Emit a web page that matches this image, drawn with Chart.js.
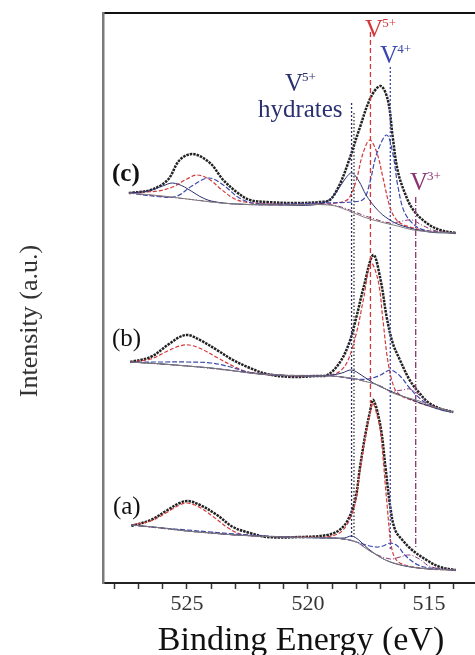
<!DOCTYPE html>
<html>
<head>
<meta charset="utf-8">
<script src="https://cdn.jsdelivr.net/npm/chart.js@4.4.0/dist/chart.umd.min.js"></script>
<style>
  html, body { margin: 0; padding: 0; background: #fff; overflow: hidden; }
  #wrap { width: 475px; height: 655px; }
</style>
</head>
<body>
<div id="wrap"><canvas id="xps"></canvas></div>
<script>
// [binding energy (eV), intensity (a.u.)]

// (c)
const cExp = [[527.4,390],[526.5,393],[525.8,403],[525.3,423],[524.75,429],[524.05,420],[523.5,403],[522.9,390],[522.4,383],[521.7,381],[520.5,380],[519.5,381],[519.1,383],[518.7,398],[518.3,423],[517.85,456],[517.4,486],[517.0,497],[516.7,483],[516.5,446],[516.3,413],[516.0,390],[515.65,373],[515.1,360],[514.55,353],[513.9,350]];
const cBg = [[527.4,390],[526,387],[525,384],[524,381],[523,379],[521,378],[519.1,378],[518.4,373],[517.7,366],[517.0,361],[516.3,357],[515.65,353],[514.8,351],[513.9,350]];
const cHydr = [[527.4,390],[526.6,392],[526.0,397],[525.6,400],[525.1,396],[524.5,387],[524.0,382],[523,379],[521,378],[519.8,378],[519.2,382],[518.8,392],[518.5,403],[518.2,410],[517.9,402],[517.6,388],[517.2,375],[516.8,366],[516.2,358],[515.0,351],[513.9,350]];
const cV5 = [[527.4,390],[526.8,391],[526.2,392],[525.6,396],[525.0,404],[524.6,408],[524.1,404],[523.6,394],[523.1,385],[522.6,381],[521.5,379],[519.5,379],[518.6,381],[518.3,385],[518.0,403],[517.75,428],[517.45,443],[517.15,430],[516.9,405],[516.6,375],[516.3,362],[515.8,356],[515.0,352],[513.9,350]];
const cV4 = [[527.4,390],[526.0,386],[525.4,387],[524.8,397],[524.1,405],[523.5,398],[522.9,386],[522.3,380],[521,379],[519.5,380],[518.2,381],[517.7,384],[517.45,400],[517.15,430],[516.75,448],[516.5,430],[516.28,396],[516.0,370],[515.5,356],[515.0,352],[513.9,350]];
const cV3 = [[527.4,390],[525,384],[523,379],[521,378],[519,378],[517.5,366],[516.6,360],[516.1,362],[515.7,363],[515.3,358],[514.7,352],[513.9,350]];

// (b)
const bExp = [[527.35,221],[526.5,226],[525.8,238],[525.3,246],[524.95,248],[524.46,243],[523.76,233],[523.1,223],[522.4,215],[521.7,209],[520.7,206],[519.7,207],[519.2,208],[518.7,220],[518.3,240],[518.0,266],[517.7,296],[517.3,328],[517.0,303],[516.75,266],[516.5,240],[516.2,223],[515.8,203],[515.4,190],[515.0,180],[514.5,174],[514.0,171]];
const bBg = [[527.35,221],[526,219],[525,217],[524,215],[523,212],[522,209],[520,207],[519.1,207],[518.2,205],[517.7,202],[517.0,197],[516.6,191],[516.0,186],[515.4,182],[514.8,176],[514.0,171]];
const bHydr = [[527.35,221],[526,219],[525,217],[524,215],[523,212],[522,209],[520,207],[519.0,208],[518.6,210],[518.2,213],[517.8,208],[517.3,200],[516.8,194],[516.0,186],[515.0,177],[514.0,171]];
const bV5 = [[527.35,221],[526.5,224],[525.8,232],[525.3,237],[524.9,238],[524.4,234],[523.8,226],[523.1,217],[522.5,211],[521.5,208],[519.5,207],[518.8,210],[518.4,220],[518.0,250],[517.7,285],[517.4,320],[517.1,302],[516.9,262],[516.7,222],[516.45,196],[516.2,188],[515.5,181],[515.0,177],[514.0,171]];
const bV4 = [[527.35,221],[526,221],[525,221],[524,220],[523.2,216],[522.5,211],[521.5,208],[520,207],[519,207],[518,204],[517.5,204],[517.0,208],[516.6,213],[516.2,207],[515.8,195],[515.4,185],[515.0,178],[514.5,173],[514.0,171]];
const bV3 = [[527.35,221],[525,217],[523,212],[521,208],[519,207],[517.7,202],[517.0,197],[516.6,192],[516.1,193],[515.8,194],[515.4,188],[515.0,179],[514.5,174],[514.0,171]];

// (a)
const aExp = [[527.3,57],[526.5,63],[525.8,73],[525.3,80],[524.95,82],[524.46,78],[523.76,68],[523.1,56],[522.4,50],[521.7,46],[520.3,46],[519.2,48],[518.7,53],[518.35,63],[518.05,83],[517.85,116],[517.65,146],[517.45,170],[517.3,183],[517.0,156],[516.8,116],[516.6,76],[516.4,53],[516.1,43],[515.7,33],[515.1,23],[514.55,16],[513.9,13]];
const aBg = [[527.3,58],[526,55],[525,52],[524,50],[523,48],[521,46],[519.2,45],[518.5,44],[518.0,41],[517.7,36],[517.3,30],[516.8,23],[516.3,19],[515.7,16],[515.0,14],[513.9,13]];
const aHydr = [[527.3,58],[526,55],[525,52],[524,50],[523,48],[521,46],[519.2,45],[518.5,45],[518.2,47],[517.9,43],[517.5,34],[516.8,23],[516.0,17],[515.0,14],[513.9,13]];
const aV5 = [[527.3,58],[526.5,62],[525.8,71],[525.3,78],[525.0,80],[524.5,76],[523.9,66],[523.3,55],[522.8,49],[522.0,47],[520.5,46],[519.3,46],[518.7,50],[518.35,60],[518.05,80],[517.85,112],[517.65,143],[517.45,168],[517.33,180],[517.15,168],[517.0,150],[516.75,83],[516.55,36],[516.35,23],[516.0,18],[515.0,14],[513.9,13]];
const aV4 = [[527.3,58],[526,55],[525,53],[524,51],[523,49],[521,46],[519.2,45],[518.5,44],[518.0,41],[517.6,38],[517.2,36],[516.9,37],[516.6,40],[516.3,37],[516.0,28],[515.6,20],[515.2,16],[514.5,14],[513.9,13]];
const aV3 = [[527.3,58],[525,52],[523,48],[521,46],[519,45],[518,41],[517.3,30],[516.6,24],[516.2,26],[515.8,28],[515.4,24],[515.0,17],[514.5,14],[513.9,13]];

// reference lines: [energy, top, bottom]
const lineHydr = [518.2, 480, 46];
const lineHydr2 = [518.1, 470, 46];
const lineV5 = [517.42, 551, 180];
const lineV4 = [516.6, 516, 33];
const lineV3 = [515.55, 386, 36];

const xTicks = [525, 520, 515];

const RED = '#d43a3a', BLUE = '#3b49ad', NAVY = '#2b3170', PURPLE = '#8a3372', GRAY = '#808080', BLACK = '#222';

function pts(arr) {
    return arr.map(p => ({x: p[0], y: p[1]}));
}
function vline(l) {
    return [{x: l[0], y: l[1]}, {x: l[0], y: l[2]}];
}

function expSet(arr) {
    return {data: pts(arr), borderColor: BLACK, borderWidth: 2.5, borderDash: [2.5, 1], tension: 0.35};
}
function bgSet(arr) {
    return {data: pts(arr), borderColor: GRAY, borderWidth: 1, tension: 0.35};
}
function hydrSet(arr) {
    return {data: pts(arr), borderColor: NAVY, borderWidth: 1, tension: 0.35};
}
function v5Set(arr) {
    return {data: pts(arr), borderColor: RED, borderWidth: 1.2, borderDash: [4, 2], tension: 0.35};
}
function v4Set(arr) {
    return {data: pts(arr), borderColor: BLUE, borderWidth: 1.2, borderDash: [5, 2], tension: 0.35};
}
function v3Set(arr) {
    return {data: pts(arr), borderColor: PURPLE, borderWidth: 1, borderDash: [5, 2, 1, 2], tension: 0.35};
}
function lineSet(l, color, dash) {
    return {data: vline(l), borderColor: color, borderWidth: 1.3, borderDash: dash, tension: 0};
}

// text on the plot: ion labels, (a)(b)(c) and axis titles
const textPlugin = {
    id: 'plotText',
    afterDatasetsDraw(chart) {
        const c = chart.ctx;
        const xs = chart.scales.x, ys = chart.scales.y;
        const px = e => xs.getPixelForValue(e);
        const py = v => ys.getPixelForValue(v);

        function ion(base, sup, e, v, color) {
            c.save();
            c.fillStyle = color;
            c.textBaseline = 'alphabetic';
            c.font = '25px "Liberation Serif"';
            c.fillText(base, px(e), py(v));
            let w = c.measureText(base).width;
            c.font = '13px "Liberation Serif"';
            c.fillText(sup, px(e) + w - 1, py(v) - 10);
            c.restore();
        }
        function txt(s, e, v, font, color) {
            c.save();
            c.fillStyle = color;
            c.font = font;
            c.textBaseline = 'alphabetic';
            c.fillText(s, px(e), py(v));
            c.restore();
        }

        ion('V', '5+', 517.64, 546, RED);
        ion('V', '4+', 517.02, 520, BLUE);
        ion('V', '5+', 520.95, 492, NAVY);
        txt('hydrates', 522.07, 466, '25px "Liberation Serif"', NAVY);
        ion('V', '3+', 515.79, 393, PURPLE);

        txt('(c)', 528.1, 402, 'bold 25px "Liberation Serif"', '#111');
        txt('(b)', 528.1, 237, '25px "Liberation Serif"', '#111');
        txt('(a)', 528.06, 69, '25px "Liberation Serif"', '#111');

        // axis titles
        c.save();
        c.fillStyle = '#111';
        c.font = '34px "Liberation Serif"';
        c.textAlign = 'center';
        c.textBaseline = 'alphabetic';
        c.fillText('Binding Energy (eV)', 301, 650);
        c.restore();

        c.save();
        c.translate(30, 321);
        c.rotate(-Math.PI / 2);
        c.textAlign = 'center';
        c.textBaseline = 'middle';
        c.fillStyle = '#333';
        c.font = '26px "Liberation Serif"';
        c.fillText('Intensity (a.u.)', 0, 0);
        c.restore();
    }
};

Chart.defaults.font.family = '"Liberation Serif", serif';

const ctx = document.getElementById('xps').getContext('2d');
const chart = new Chart(ctx, {
    type: 'line',
    data: {
        datasets: [
            bgSet(cBg), hydrSet(cHydr), v3Set(cV3), v4Set(cV4), v5Set(cV5),
            bgSet(bBg), hydrSet(bHydr), v3Set(bV3), v4Set(bV4), v5Set(bV5),
            bgSet(aBg), hydrSet(aHydr), v3Set(aV3), v4Set(aV4), v5Set(aV5),
            lineSet(lineHydr, NAVY, [2, 2]),
            lineSet(lineHydr2, '#333', [1.5, 2]),
            lineSet(lineV5, RED, [5, 3]),
            lineSet(lineV4, BLUE, [2, 2]),
            lineSet(lineV3, PURPLE, [6, 2, 1, 2]),
            expSet(cExp), expSet(bExp), expSet(aExp),
        ]
    },
    options: {
        responsive: true,
        maintainAspectRatio: false,
        animation: false,
        elements: {
            point: {radius: 0, hoverRadius: 0}
        },
        layout: {
            padding: {left: 103, top: 13, right: 0, bottom: 0}
        },
        scales: {
            x: {
                type: 'linear',
                reverse: true,
                min: 513.1,
                max: 528.47,
                ticks: {
                    stepSize: 1,
                    includeBounds: false,
                    autoSkip: false,
                    maxRotation: 0,
                    padding: 2,
                    color: '#333',
                    font: {size: 22},
                    callback: v => xTicks.includes(v) ? String(v) : ''
                },
                grid: {
                    display: true,
                    drawOnChartArea: false,
                    drawTicks: true,
                    tickLength: 6,
                    tickColor: '#333',
                    tickWidth: 1.5
                },
                border: {display: true, color: '#222', width: 2},
                afterFit: s => { s.height = 72; }
            },
            top: {
                type: 'linear',
                position: 'top',
                min: 513.1,
                max: 528.47,
                ticks: {display: false},
                grid: {display: false, drawTicks: false},
                border: {display: true, color: '#111', width: 2},
                afterFit: s => { s.height = 0; }
            },
            y: {
                type: 'linear',
                min: 0,
                max: 570,
                ticks: {display: false},
                grid: {display: false, drawTicks: false},
                border: {display: true, color: '#7a7a7a', width: 2.5},
                afterFit: s => { s.width = 0; }
            }
        },
        plugins: {
            legend: {display: false},
            tooltip: {enabled: false}
        }
    },
    plugins: [textPlugin]
});
</script>
</body>
</html>
